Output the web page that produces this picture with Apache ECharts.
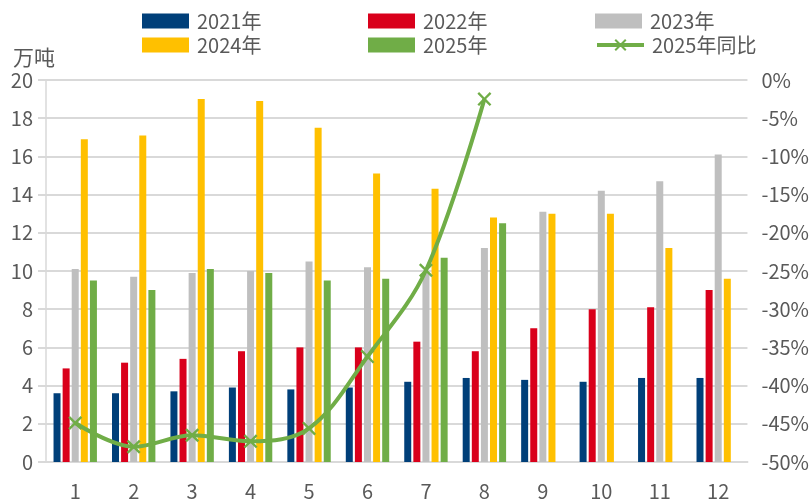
<!DOCTYPE html>
<html>
<head>
<meta charset="utf-8">
<script src="https://cdn.jsdelivr.net/npm/echarts@6/dist/echarts.min.js"></script>
<style>
  html, body { margin: 0; padding: 0; background: #fff; }
  #chart { width: 812px; height: 504px; }
</style>
</head>
<body>
<div id="chart"></div>
<script>
const months = ["1", "2", "3", "4", "5", "6", "7", "8", "9", "10", "11", "12"];
const y2021 = [3.6, 3.6, 3.7, 3.9, 3.8, 3.9, 4.2, 4.4, 4.3, 4.2, 4.4, 4.4];
const y2022 = [4.9, 5.2, 5.4, 5.8, 6.0, 6.0, 6.3, 5.8, 7.0, 8.0, 8.1, 9.0];
const y2023 = [10.1, 9.7, 9.9, 10.0, 10.5, 10.2, 9.9, 11.2, 13.1, 14.2, 14.7, 16.1];
const y2024 = [16.9, 17.1, 19.0, 18.9, 17.5, 15.1, 14.3, 12.8, 13.0, 13.0, 11.2, 9.6];
const y2025 = [9.5, 9.0, 10.1, 9.9, 9.5, 9.6, 10.7, 12.5, null, null, null, null];
const yoy2025 = [-44.9, -48.0, -46.5, -47.3, -45.6, -36.2, -24.9, -2.5, null, null, null, null];

const font = "'Noto Sans CJK SC', 'Noto Sans', sans-serif";
const textColor = "#595959";
const gridColor = "#D9D9D9";
// x 形标记
const xMark = "path://M0,1.2L1.2,0L5,3.8L8.8,0L10,1.2L6.2,5L10,8.8L8.8,10L5,6.2L1.2,10L0,8.8L3.8,5Z";

const chart = echarts.init(document.getElementById("chart"));

const barSeries = [
  { name: "2021年", data: y2021, color: "#003F79" },
  { name: "2022年", data: y2022, color: "#D9001B" },
  { name: "2023年", data: y2023, color: "#BFBFBF" },
  { name: "2024年", data: y2024, color: "#FFC000" },
  { name: "2025年", data: y2025, color: "#70AD47" },
].map((s) => ({
  name: s.name,
  type: "bar",
  data: s.data,
  yAxisIndex: 0,
  barWidth: 7,
  barGap: "30%",
  itemStyle: { color: s.color },
}));

// 图例按位置逐个摆放
const legendPos = [
  ["2021年", 142, 11],
  ["2022年", 368, 11],
  ["2023年", 595, 11],
  ["2024年", 142, 35],
  ["2025年", 368, 35],
  ["2025年同比", 595, 35],
];

chart.setOption({
  animation: false,
  textStyle: { fontFamily: font },
  legend: legendPos.map((p) => {
    const isLine = p[0] === "2025年同比";
    return {
      data: [p[0]],
      left: p[1],
      top: p[2],
      icon: isLine ? undefined : "rect",
      itemWidth: 47,
      itemHeight: 15,
      itemGap: 0,
      padding: 0,
      lineStyle: isLine ? { width: 4 } : undefined,
      textStyle: { color: textColor, fontSize: 20, fontFamily: font, padding: [0, 0, 0, 3] },
    };
  }),
  grid: { left: 46, right: 59, top: 80, bottom: 42 },
  xAxis: {
    type: "category",
    data: months,
    axisTick: { show: false },
    axisLine: { lineStyle: { color: gridColor, width: 2 } },
    axisLabel: { color: textColor, fontSize: 20, margin: 19 },
  },
  yAxis: [
    {
      type: "value",
      name: "万吨",
      nameLocation: "end",
      nameGap: 12,
      nameTextStyle: { color: textColor, fontSize: 21, align: "left", padding: [0, 0, 0, -33] },
      min: 0,
      max: 20,
      interval: 2,
      axisLine: { show: true, lineStyle: { color: gridColor, width: 1.5 } },
      axisTick: { show: true, length: 8, lineStyle: { color: gridColor, width: 2 } },
      axisLabel: { color: textColor, fontSize: 20, margin: 13 },
      splitLine: { lineStyle: { color: gridColor, width: 2 } },
    },
    {
      type: "value",
      min: -50,
      max: 0,
      interval: 5,
      axisLine: { show: false },
      axisTick: { show: false },
      axisLabel: { color: textColor, fontSize: 20, margin: 14, formatter: "{value}%" },
      splitLine: { show: false },
    },
  ],
  series: barSeries.concat([
    {
      name: "2025年同比",
      type: "line",
      yAxisIndex: 1,
      data: yoy2025,
      smooth: 0.35,
      symbol: xMark,
      symbolSize: 14,
      lineStyle: { color: "#70AD47", width: 4 },
      itemStyle: { color: "#70AD47" },
      z: 5,
    },
  ]),
});
</script>
</body>
</html>
